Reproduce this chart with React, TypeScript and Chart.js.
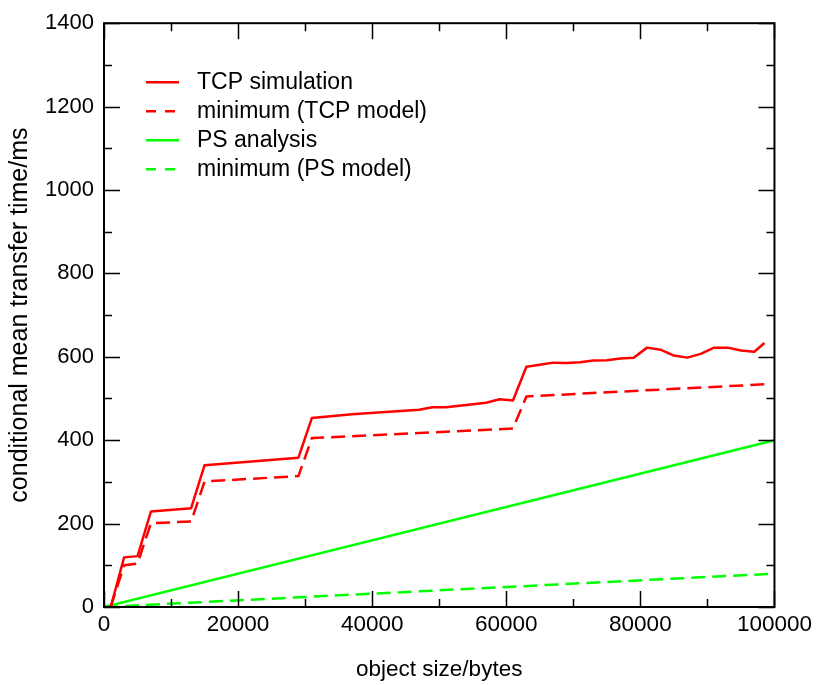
import { useEffect, useRef } from "react";
import { Chart, registerables } from "chart.js";

Chart.register(...registerables);

// Object sizes (bytes) and conditional mean transfer times (ms)
const tcpSimBytes = [
  1000, 3000, 5000, 7000, 13000, 15000, 29000, 31000, 37000, 47000,
  49000, 51000, 57000, 59000, 61000, 63000, 65000, 67000, 69000, 71000,
  73000, 75000, 77000, 79000, 81000, 83000, 85000, 87000, 89000, 91000,
  93000, 95000, 97000, 98500,
];
const tcpSimMs = [
  0, 119, 122, 229, 237, 340, 358, 453, 462, 473,
  479, 479, 490, 498, 495, 576, 581, 586, 585, 587,
  591, 592, 596, 598, 622, 617, 603, 598, 607, 622,
  622, 615, 612, 633,
];

const tcpModelBytes = [1000, 3000, 5000, 7000, 13000, 15000, 29000, 31000, 61000, 63000, 98500];
const tcpModelMs = [0, 100, 104, 201, 205, 301, 314, 405, 428, 505, 534];

const psBytes = [0, 100000];
const psAnalysisMs = [0, 400];
const psModelMs = [0, 80];

const seriesLabels = [
  "TCP simulation",
  "minimum (TCP model)",
  "PS analysis",
  "minimum (PS model)",
];

const xTickLabels = ["0", "20000", "40000", "60000", "80000", "100000"];
const yTickLabels = ["0", "200", "400", "600", "800", "1000", "1200", "1400"];

const X_MIN = 0;
const X_MAX = 100000;
const X_MAJOR = 20000;
const X_MINOR = 10000;
const Y_MIN = 0;
const Y_MAX = 1400;
const Y_MAJOR = 200;
const Y_MINOR = 100;

const FONT = "'Liberation Sans', Arial, Helvetica, sans-serif";
const RED = "#ff0000";
const GREEN = "#00ff00";
const DASH = [14, 7];
const LINE_W = 2.5;

const toPoints = (xs: number[], ys: number[]) => xs.map((x, i) => ({ x, y: ys[i] }));

// Draws the closed frame with inward major/minor ticks on all four sides,
// plus the legend inside the plot area.
const frameAndLegend = {
  id: "frameAndLegend",
  afterDatasetsDraw(chart: any) {
    const { ctx, chartArea: a, scales } = chart;
    const xs = scales.x;
    const ys = scales.y;
    ctx.save();

    ctx.strokeStyle = "#000";
    ctx.lineWidth = 1.5;
    ctx.beginPath();
    for (let v = X_MIN; v <= X_MAX; v += X_MINOR) {
      const px = Math.round(xs.getPixelForValue(v)) + 0.5;
      const len = v % X_MAJOR === 0 ? 16 : 8;
      ctx.moveTo(px, a.bottom);
      ctx.lineTo(px, a.bottom - len);
      ctx.moveTo(px, a.top);
      ctx.lineTo(px, a.top + len);
    }
    for (let v = Y_MIN; v <= Y_MAX; v += Y_MINOR) {
      const py = Math.round(ys.getPixelForValue(v)) + 0.5;
      const len = v % Y_MAJOR === 0 ? 16 : 8;
      ctx.moveTo(a.left, py);
      ctx.lineTo(a.left + len, py);
      ctx.moveTo(a.right, py);
      ctx.lineTo(a.right - len, py);
    }
    ctx.stroke();

    ctx.lineWidth = 2;
    ctx.strokeRect(a.left, a.top, a.right - a.left, a.bottom - a.top);

    // legend
    ctx.font = `23px ${FONT}`;
    ctx.textBaseline = "middle";
    ctx.textAlign = "left";
    chart.data.datasets.forEach((ds: any, i: number) => {
      const rowY = a.top + 59 + i * 29;
      const x0 = a.left + 42;
      ctx.beginPath();
      ctx.strokeStyle = ds.borderColor;
      ctx.lineWidth = LINE_W;
      ctx.setLineDash(ds.borderDash && ds.borderDash.length ? [10, 9] : []);
      ctx.moveTo(x0, rowY);
      ctx.lineTo(x0 + 33, rowY);
      ctx.stroke();
      ctx.setLineDash([]);
      ctx.fillStyle = "#000";
      ctx.fillText(ds.label, a.left + 93, rowY);
    });

    ctx.restore();
  },
};

export default function App() {
  const canvasRef = useRef<HTMLCanvasElement | null>(null);

  useEffect(() => {
    const canvas = canvasRef.current;
    if (!canvas) return;

    const chart = new Chart(canvas, {
      type: "line",
      data: {
        datasets: [
          {
            label: seriesLabels[0],
            data: toPoints(tcpSimBytes, tcpSimMs),
            borderColor: RED,
            borderWidth: LINE_W,
            borderDash: [],
          },
          {
            label: seriesLabels[1],
            data: toPoints(tcpModelBytes, tcpModelMs),
            borderColor: RED,
            borderWidth: LINE_W,
            borderDash: DASH,
          },
          {
            label: seriesLabels[2],
            data: toPoints(psBytes, psAnalysisMs),
            borderColor: GREEN,
            borderWidth: LINE_W,
            borderDash: [],
          },
          {
            label: seriesLabels[3],
            data: toPoints(psBytes, psModelMs),
            borderColor: GREEN,
            borderWidth: LINE_W,
            borderDash: DASH,
          },
        ],
      },
      options: {
        responsive: false,
        animation: false,
        elements: {
          point: { radius: 0, hoverRadius: 0 },
          line: { tension: 0, fill: false, borderJoinStyle: "round" },
        },
        layout: { padding: { left: 0, top: 20, right: 40, bottom: 0 } },
        plugins: {
          legend: { display: false },
          tooltip: { enabled: false },
        },
        scales: {
          x: {
            type: "linear",
            min: X_MIN,
            max: X_MAX,
            grid: { display: false, drawTicks: false },
            border: { display: false },
            afterFit: (s: any) => {
              s.height = 78;
            },
            afterBuildTicks: (s: any) => {
              s.ticks = xTickLabels.map((t) => ({ value: Number(t) }));
            },
            ticks: {
              autoSkip: false,
              maxRotation: 0,
              padding: 4,
              color: "#000",
              font: { family: FONT, size: 22.5 },
              callback: (_v: any, i: number) => xTickLabels[i],
            },
            title: {
              display: true,
              text: "object size/bytes",
              color: "#000",
              font: { family: FONT, size: 22.5 },
              padding: { top: 0, bottom: 2 },
            },
          },
          y: {
            type: "linear",
            min: Y_MIN,
            max: Y_MAX,
            grid: { display: false, drawTicks: false },
            border: { display: false },
            afterFit: (s: any) => {
              s.width = 104;
            },
            afterBuildTicks: (s: any) => {
              s.ticks = yTickLabels.map((t) => ({ value: Number(t) }));
            },
            ticks: {
              autoSkip: false,
              padding: 10,
              color: "#000",
              font: { family: FONT, size: 22 },
              callback: (_v: any, i: number) => yTickLabels[i],
            },
            title: {
              display: true,
              text: "conditional mean transfer time/ms",
              color: "#000",
              font: { family: FONT, size: 25 },
              padding: { top: 5, bottom: 0 },
            },
          },
        },
      },
      plugins: [frameAndLegend],
    });

    return () => chart.destroy();
  }, []);

  return (
    <div style={{ position: "absolute", left: 0, top: 0, width: 816, height: 685, background: "#fff" }}>
      <canvas ref={canvasRef} width={816} height={685} style={{ display: "block" }} />
    </div>
  );
}
